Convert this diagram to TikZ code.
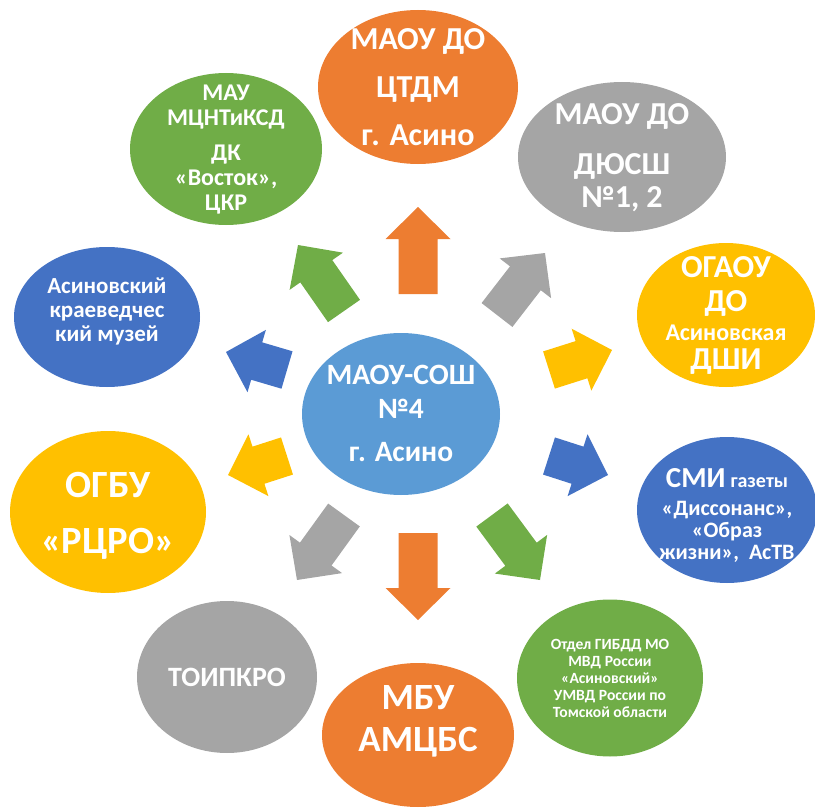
\documentclass[tikz,border=0pt]{standalone}
\usepackage{fontspec}
\setmainfont{Carlito}
\usetikzlibrary{shapes.geometric,calc}
\definecolor{orangeoff}{HTML}{ED7D31}
\definecolor{grisoff}{HTML}{A5A5A5}
\definecolor{jauneoff}{HTML}{FFC000}
\definecolor{bleuoff}{HTML}{4472C4}
\definecolor{vertoff}{HTML}{70AD47}
\definecolor{cieloff}{HTML}{5B9BD5}
\tikzstyle{ovale}=[ellipse, inner sep=0, draw=none]
\tikzstyle{texte}=[text=white, align=center, inner sep=0]
\newcommand{\fs}[2]{\bfseries\fontsize{#1}{#2}\selectfont}
% #1 nom, #2 centre, #3 largeur, #4 hauteur, #5 couleur, #6 options du texte, #7 texte
\newcommand{\bulle}[7]{
\node[ovale,fill=#5,minimum width=#3,minimum height=#4] (#1) at (#2) {};
\node[texte,#6] (#1t) {#7};
}
% fleche pleine de #1 vers #2
\newcommand{\fleche}[3]{
\coordinate (h) at ($(#2)!32pt!(#1)$);
\fill[#3] ($(#1)!19.5pt!90:(#2)$) -- ($(h)!19.5pt!-90:(#1)$) -- ($(h)!32.5pt!-90:(#1)$) -- (#2)
 -- ($(h)!32.5pt!90:(#1)$) -- ($(h)!19.5pt!90:(#1)$) -- ($(#1)!19.5pt!-90:(#2)$) -- cycle;
}
\begin{document}
\begin{tikzpicture}[x=1pt,y=-1pt]
\path[use as bounding box] (0,0) rectangle (815,808);

%bulles
\bulle{tdm}{418,87}{200pt}{154pt}{orangeoff}{at={(418,87)},font=\fs{32}{48}}{МАОУ ДО\\ЦТДМ\\г. Асино}
\bulle{dus}{622,157}{208pt}{150pt}{grisoff}{at={(622,158)},font=\fs{32}{33}}{МАОУ ДО\\[17pt]ДЮСШ\\№1, 2}
\bulle{ogaou}{726,315}{178pt}{144pt}{jauneoff}{at={(726,315)},font=\fs{32}{29}}{ОГАОУ\\[5pt]ДО\\{\fs{24}{29}Асиновская}\\ДШИ}
\bulle{smi}{727,510}{180pt}{146pt}{bleuoff}{at={(727,515)},font=\fs{22}{22}}{{\fs{29}{22}СМИ} {\fs{20}{22}газеты}\\[6pt]«Диссонанс»,\\«Образ\\жизни»,~ АсТВ}
\bulle{gibdd}{610,678}{186pt}{157pt}{vertoff}{at={(610,678)},font=\fs{15.6}{17}}{Отдел ГИБДД МО\\МВД России\\«Асиновский»\\УМВД России по\\Томской области}
\bulle{mbu}{418,735}{192pt}{144pt}{orangeoff}{at={(418,721)},font=\fs{37}{42}}{МБУ\\АМЦБС}
\bulle{toi}{227,677}{180pt}{152pt}{grisoff}{at={(227,677)},font=\fs{28}{30}}{ТОИПКРО}
\bulle{rcro}{108,512}{196pt}{162pt}{jauneoff}{at={(108,516)},font=\fs{38.5}{56}}{ОГБУ\\«РЦРО»}
\bulle{muz}{107,317}{186pt}{140pt}{bleuoff}{at={(107,311)},font=\fs{23}{24}}{Асиновский\\краеведчес\\кий музей}
\bulle{mau}{226,149}{192pt}{152pt}{vertoff}{at={(226,150)},font=\fs{24}{25}}{МАУ\\МЦНТиКСД\\[10pt]ДК\\«Восток»,\\ЦКР}
\bulle{ecole}{401,414}{198pt}{162pt}{cieloff}{at={(401,413)},font=\fs{29.5}{34}}{МАОУ-СОШ\\№4\\[9pt]г. Асино}

%fleches
\foreach \I/\dx/\dy/\fx/\fy/\coul in {1/418/294/418/207/orangeoff, 2/497/315/545/253/grisoff,
  3/549/370/612/350/jauneoff, 4/549/456/608/475/bleuoff, 5/492/515/540/580/vertoff,
  6/418/533/418/620/orangeoff, 7/344/515/297/580/grisoff, 8/287/456/228/475/jauneoff,
  9/287/370/226/352/bleuoff, 10/344/311/298/245/vertoff}
{\coordinate (d\I) at (\dx,\dy);
\coordinate (f\I) at (\fx,\fy);
\fleche{d\I}{f\I}{\coul}
}
\end{tikzpicture}
\end{document}
